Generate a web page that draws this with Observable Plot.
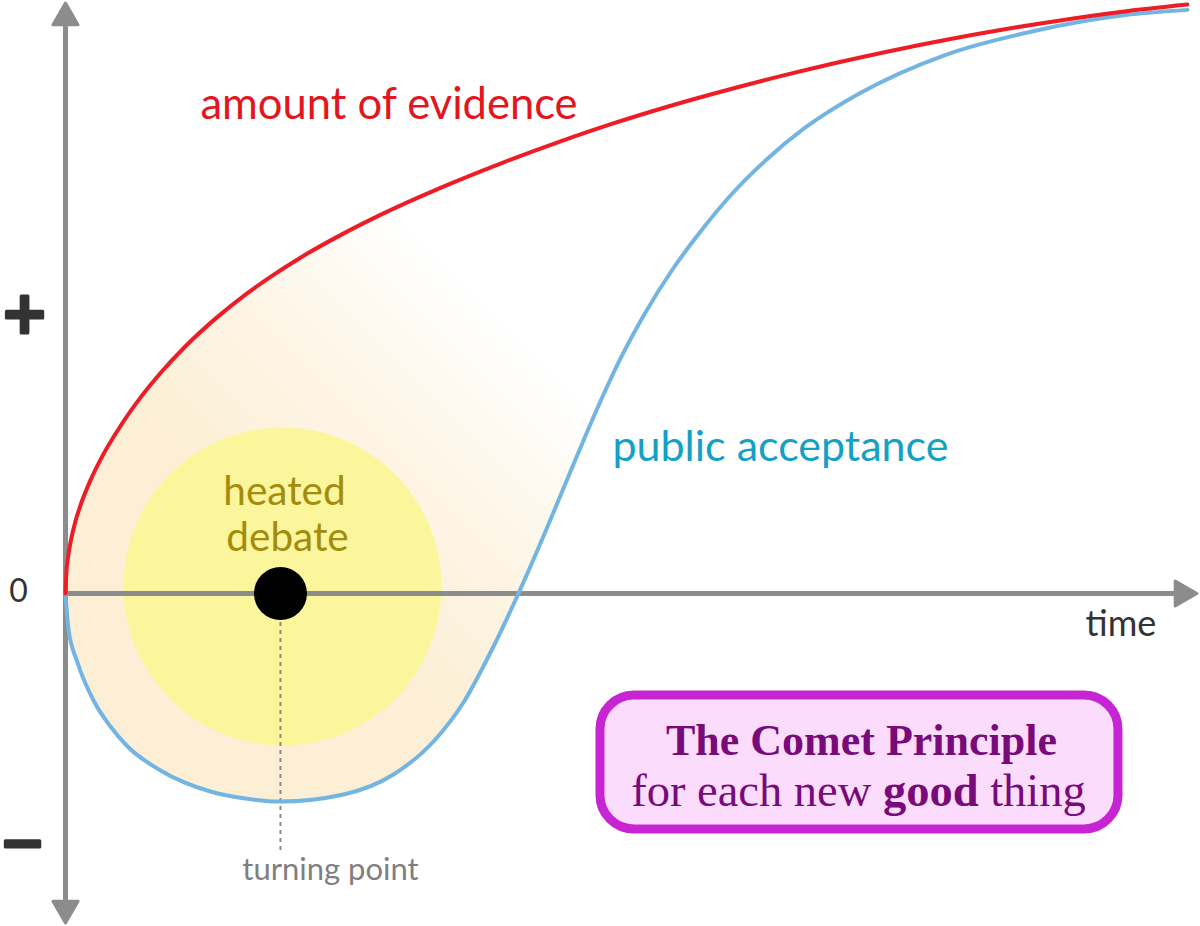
<!DOCTYPE html>
<html><head><meta charset="utf-8">
<script src="https://cdn.jsdelivr.net/npm/d3@7"></script>
<script src="https://cdn.jsdelivr.net/npm/@observablehq/plot@0.6"></script>
<style>body{margin:0;background:#fff;} #chart svg{display:block}</style>
</head><body><div id="chart"></div>
<script>
// ---- data (time 0..100, level: 0 = neutral) ----
const evidenceTime  = [0, 0.09, 0.18, 0.45, 0.89, 1.34, 2.23, 3.12, 4.90, 6.68, 8.47, 10.70, 13.37, 16.04, 18.27, 20.94, 24.51, 28.07, 33.42, 38.77, 44.12, 48.75, 53.65, 58.65, 63.73, 68.63, 73.53, 78.52, 83.33, 88.5, 94.03, 100];
const evidenceLevel = [0, 3.83, 5.42, 8.57, 12.07, 14.73, 18.9, 22.32, 27.92, 32.65, 36.75, 41.21, 45.81, 49.81, 52.77, 55.97, 59.73, 63.1, 67.6, 71.65, 75.35, 78.3, 81.13, 83.75, 86.22, 88.42, 90.43, 92.3, 93.92, 95.47, 96.92, 98.15];
const acceptanceTime  = [0, 0.27, 1.07, 2.50, 4.01, 5.53, 8.47, 12.92, 16.04, 19.16, 24.78, 29.23, 32.80, 35.47, 37.88, 40.37, 42.78, 45.01, 47.24, 49.47, 51.69, 54.1, 56.6, 59.27, 62.39, 65.95, 70.59, 78.52, 86.54, 94.47, 100];
const acceptanceLevel = [0, -6, -11.5, -17.83, -22.17, -25.5, -29.5, -33, -34.17, -34.67, -33.5, -30.17, -24.67, -18.17, -9.83, 0, 10.33, 20.33, 30.17, 39.17, 46.83, 54, 60.33, 66.33, 72.17, 77.67, 83.17, 89.83, 93.83, 96.4, 97.27];

const turningPoint = [{time: 19.16, level: 0}];
const debateZone = [{time: 19.34, level: 1.17}];

const axisTicks = ["+", "0", "−"];
const axisTickLevels = [46.5, 0.33, -41.67];

const evidence = evidenceTime.map((t, i) => ({time: t, level: evidenceLevel[i]}));
const acceptance = acceptanceTime.map((t, i) => ({time: t, level: acceptanceLevel[i]}));

const yBottom = -55.5, yTop = 98.833;
const chart = Plot.plot({
  width: 1200, height: 926,
  margin: 0,
  style: {background: "#fff", overflow: "visible"},
  x: {domain: [-5.793, 101.16], axis: null},
  y: {domain: [yBottom, yTop], axis: null},
  marks: [
    // comet body: area under the evidence curve, clipped to the area above the acceptance curve
    Plot.areaY(acceptance, {x: "time", y1: "level", y2: yTop, curve: "monotone-x", fill: "none", className: "comet-clip-src"}),
    Plot.areaY(evidence, {x: "time", y1: yBottom, y2: "level", curve: "monotone-x", fill: "url(#cometGlow)", className: "comet-body"}),
    // heated debate zone
    Plot.dot(debateZone, {x: "time", y: "level", r: 159, fill: "#fbf59b", stroke: "none"}),
    // axes
    Plot.ruleX([0], {y1: -52, y2: 95.5, stroke: "#8c8c8c", strokeWidth: 5}),
    Plot.ruleY([0], {x1: 0, x2: 99.38, stroke: "#8c8c8c", strokeWidth: 5}),
    Plot.dot([{x: 0, y: 96, a: 0}, {x: 0, y: -52.5, a: 180}, {x: 99.55, y: 0, a: 90}],
      {x: "x", y: "y", rotate: "a", symbol: "triangle", r: 9.3, fill: "#8c8c8c", stroke: "#8c8c8c", strokeWidth: 3, strokeLinejoin: "round"}),
    // turning point guide
    Plot.ruleX(turningPoint, {x: "time", y1: -4.83, y2: -42.83, stroke: "#8a8a8a", strokeWidth: 2, strokeDasharray: "4,4"}),
    // curves
    Plot.line(acceptance, {x: "time", y: "level", curve: "monotone-x", stroke: "#72b5e2", strokeWidth: 4}),
    Plot.line(evidence, {x: "time", y: "level", curve: "monotone-x", stroke: "#ee1c24", strokeWidth: 4}),
    Plot.dot(turningPoint, {x: "time", y: "level", r: 26.5, fill: "#000", stroke: "none"}),
    // axis tick labels
    Plot.text(axisTicks.slice(1, 2), {x: -4.19, y: axisTickLevels[1], text: d => d, fontSize: 32, fontFamily: "Lato", fill: "#333"}),
    Plot.text([axisTicks[0]], {x: -3.65, y: axisTickLevels[0], text: d => d, fontSize: 58, fontWeight: "bold", fontFamily: "DejaVu Sans", fill: "#333", stroke: "#333", strokeWidth: 3}),
    Plot.text([axisTicks[2]], {x: -3.83, y: axisTickLevels[2], text: d => d, fontSize: 55, fontWeight: "bold", fontFamily: "DejaVu Sans", fill: "#333", stroke: "#333", strokeWidth: 3}),
    Plot.text(["time"], {x: 90.91, y: -5.17, text: d => d, textAnchor: "start", fontSize: 36, fontFamily: "Lato", fill: "#333"}),
    // series labels
    Plot.text(["amount of evidence"], {x: 12.03, y: 81.33, text: d => d, textAnchor: "start", fontSize: 43.5, fontFamily: "Lato", fill: "#e3151d"}),
    Plot.text(["public acceptance"], {x: 48.75, y: 24.33, text: d => d, textAnchor: "start", fontSize: 43, fontFamily: "Lato", fill: "#15a0c6"}),
    Plot.text(["heated", "debate"], {x: [19.52, 19.79], y: [16.83, 9.17], text: d => d, fontSize: 40.5, fontFamily: "Lato", fill: "#a38c0b"}),
    Plot.text(["turning point"], {x: 23.62, y: -46.17, text: d => d, fontSize: 31, fontFamily: "Lato", fill: "#7f7f7f"}),
    // title box
    Plot.rect([0], {x1: 47.68, x2: 93.85, y1: -39.33, y2: -17, rx: 34, fill: "#fcdcfc", stroke: "#c724d3", strokeWidth: 9}),
    Plot.text(["The Comet Principle"], {x: 70.94, y: -24.5, text: d => d, fontSize: 44, fontWeight: "bold", fontFamily: "Liberation Serif", fill: "#780a7a"}),
    Plot.text(["for each new good thing"], {x: 70.68, y: -33, text: d => d, fontSize: 46.5, fontFamily: "Liberation Serif", fill: "#780a7a"})
  ]
});

const svg = d3.select(chart);
const defs = svg.insert("defs", ":first-child");

// gradient for the comet glow
const g = defs.append("linearGradient").attr("id", "cometGlow")
  .attr("gradientUnits", "userSpaceOnUse")
  .attr("x1", 170).attr("y1", 430).attr("x2", 390).attr("y2", 210);
g.append("stop").attr("offset", 0).attr("stop-color", "#fcefd6").attr("stop-opacity", 1);
g.append("stop").attr("offset", 0.5).attr("stop-color", "#fcefd6").attr("stop-opacity", 0.6);
g.append("stop").attr("offset", 1).attr("stop-color", "#fcefd6").attr("stop-opacity", 0);

// clip: region above the acceptance curve
const src = svg.select(".comet-clip-src");
const srcPath = src.select("path");
const clip = defs.append("clipPath").attr("id", "cometClip");
clip.append("path").attr("d", srcPath.attr("d")).attr("transform", srcPath.attr("transform"));
const srcT = src.attr("transform");
if (srcT) clip.select("path").attr("transform", srcT);
src.remove();
svg.select(".comet-body").attr("clip-path", "url(#cometClip)");

// bold "good"
svg.selectAll("text").each(function() {
  const t = d3.select(this);
  if (t.text() === "for each new good thing") {
    t.text(null);
    t.append("tspan").text("for each new ");
    t.append("tspan").attr("font-weight", "bold").text("good");
    t.append("tspan").text(" thing");
  }
});

document.getElementById("chart").appendChild(chart);
</script>
</body></html>
